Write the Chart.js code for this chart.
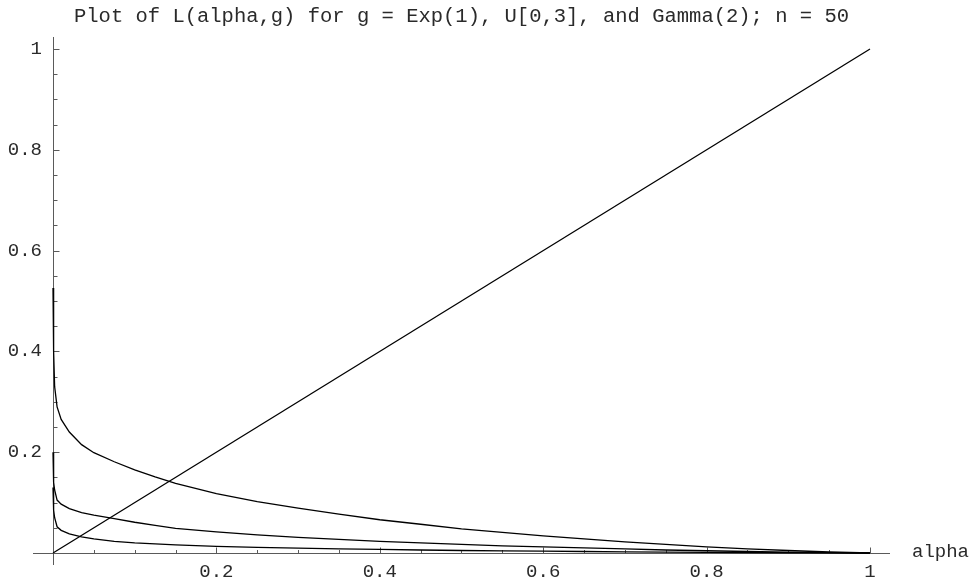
<!DOCTYPE html>
<html>
<head>
<meta charset="utf-8">
<script src="https://cdn.jsdelivr.net/npm/chart.js@4/dist/chart.umd.min.js"></script>
<style>
  html, body { margin: 0; padding: 0; background: #ffffff; }
  #wrap { width: 973px; height: 580px; }
</style>
</head>
<body>
<div id="wrap"><canvas id="c" width="973" height="580"></canvas></div>
<script>
// ---- data ----
const alphaGrid = [0, 0.0005, 0.001, 0.002, 0.005, 0.01, 0.02, 0.035, 0.05, 0.075, 0.1, 0.125, 0.15,
  0.2, 0.25, 0.3, 0.35, 0.4, 0.45, 0.5, 0.55, 0.6, 0.65, 0.7, 0.75, 0.8, 0.85, 0.9, 0.95, 1];
const curveTop = [0.526, 0.47, 0.40, 0.33, 0.29, 0.265, 0.24, 0.215, 0.199, 0.181, 0.165, 0.151, 0.138,
  0.118, 0.102, 0.089, 0.077, 0.066, 0.057, 0.048, 0.041, 0.034, 0.028, 0.022, 0.017, 0.012, 0.008, 0.005, 0.002, 0];
const curveMid = [0.20, 0.16, 0.14, 0.125, 0.105, 0.097, 0.088, 0.080, 0.075, 0.068, 0.061, 0.055, 0.049,
  0.042, 0.036, 0.031, 0.027, 0.023, 0.020, 0.017, 0.014, 0.012, 0.010, 0.008, 0.006, 0.0045, 0.003, 0.0018, 0.0008, 0];
const curveLow = [0.13, 0.10, 0.085, 0.07, 0.052, 0.045, 0.038, 0.032, 0.028, 0.023, 0.020, 0.018, 0.016,
  0.013, 0.011, 0.0095, 0.008, 0.007, 0.006, 0.005, 0.0043, 0.0036, 0.003, 0.0024, 0.0018, 0.0013, 0.0009, 0.0005, 0.0002, 0];
const diagAlpha = [0, 1];
const diagValue = [0, 1];

const xTickValues = [0.2, 0.4, 0.6, 0.8, 1];
const xTickLabels = ['0.2', '0.4', '0.6', '0.8', '1'];
const yTickValues = [0.2, 0.4, 0.6, 0.8, 1];
const yTickLabels = ['0.2', '0.4', '0.6', '0.8', '1'];
const minorStep = 0.05;
const titleText = 'Plot of L(alpha,g) for g = Exp(1), U[0,3], and Gamma(2); n = 50';
const xAxisName = 'alpha';

const toPts = (xs, ys) => xs.map((x, i) => ({ x: x, y: ys[i] }));

const FONT = "'Liberation Mono', 'DejaVu Sans Mono', monospace";
const AXIS_COLOR = '#5a5a5a';
const TEXT_COLOR = '#2a2a2a';

const axesPlugin = {
  id: 'mathAxes',
  beforeDatasetsDraw(chart) {
    const ctx = chart.ctx;
    const xs = chart.scales.x, ys = chart.scales.y;
    const x0 = xs.getPixelForValue(0), y0 = ys.getPixelForValue(0);
    ctx.save();
    ctx.strokeStyle = AXIS_COLOR;
    ctx.lineWidth = 1;
    // axis lines
    ctx.beginPath();
    ctx.moveTo(xs.left, Math.round(y0) + 0.5);
    ctx.lineTo(xs.right, Math.round(y0) + 0.5);
    ctx.moveTo(Math.round(x0) + 0.5, ys.bottom);
    ctx.lineTo(Math.round(x0) + 0.5, ys.top);
    ctx.stroke();
    // tick marks
    ctx.beginPath();
    for (let k = 1; k * minorStep <= 1.0001; k++) {
      const v = k * minorStep;
      const major = (k % 4 === 0);
      const px = Math.round(xs.getPixelForValue(v)) + 0.5;
      ctx.moveTo(px, Math.round(y0) + 0.5);
      ctx.lineTo(px, Math.round(y0) + 0.5 - (major ? 6 : 3.5));
      const py = Math.round(ys.getPixelForValue(v)) + 0.5;
      ctx.moveTo(Math.round(x0) + 0.5, py);
      ctx.lineTo(Math.round(x0) + 0.5 + (major ? 6 : 4), py);
    }
    ctx.stroke();
    // tick labels
    ctx.fillStyle = TEXT_COLOR;
    ctx.font = '19px ' + FONT;
    ctx.textAlign = 'center';
    ctx.textBaseline = 'middle';
    xTickValues.forEach((v, i) => {
      ctx.fillText(xTickLabels[i], xs.getPixelForValue(v), y0 + 19);
    });
    ctx.textAlign = 'right';
    yTickValues.forEach((v, i) => {
      ctx.fillText(yTickLabels[i], x0 - 11, ys.getPixelForValue(v));
    });
    ctx.textAlign = 'left';
    ctx.fillText(xAxisName, xs.right + 22, y0 - 1);
    ctx.restore();
  }
};

const lineStyle = {
  borderColor: '#000000',
  borderWidth: 1.3,
  pointRadius: 0,
  pointHoverRadius: 0,
  showLine: true,
  fill: false,
  tension: 0
};

new Chart(document.getElementById('c'), {
  type: 'scatter',
  data: {
    datasets: [
      Object.assign({ label: 'Exp(1)', data: toPts(alphaGrid, curveTop) }, lineStyle),
      Object.assign({ label: 'U[0,3]', data: toPts(alphaGrid, curveMid) }, lineStyle),
      Object.assign({ label: 'Gamma(2)', data: toPts(alphaGrid, curveLow) }, lineStyle),
      Object.assign({ label: 'alpha', data: toPts(diagAlpha, diagValue) }, lineStyle)
    ]
  },
  options: {
    responsive: false,
    animation: false,
    devicePixelRatio: 1,
    layout: { padding: { left: 33, right: 83, top: 0, bottom: 15 } },
    scales: {
      x: { type: 'linear', display: false, min: -20 / 817, max: 1 + 20 / 817 },
      y: { type: 'linear', display: false, min: -12 / 504, max: 1 + 12 / 504 }
    },
    plugins: {
      legend: { display: false },
      tooltip: { enabled: false },
      title: {
        display: true,
        text: titleText,
        fullSize: false,
        color: TEXT_COLOR,
        font: { family: FONT, size: 20.5, weight: 'normal', lineHeight: 1.17 },
        padding: { top: 5, bottom: 8 }
      }
    }
  },
  plugins: [axesPlugin]
});
</script>
</body>
</html>
